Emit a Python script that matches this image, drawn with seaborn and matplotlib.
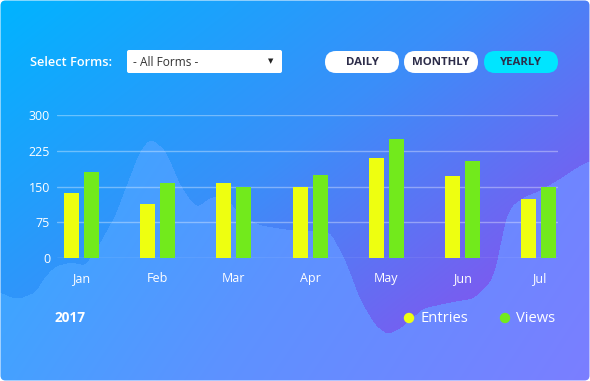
import numpy as np
import pandas as pd
import matplotlib
matplotlib.use("Agg")
import matplotlib.pyplot as plt
import seaborn as sns
from matplotlib.patches import FancyBboxPatch, Circle
from matplotlib.colors import to_rgb

# ---- data ----
months = ["Jan", "Feb", "Mar", "Apr", "May", "Jun", "Jul"]
entries = [136, 113, 158, 148, 210, 173, 124]
views = [180, 158, 149, 175, 250, 204, 149]
series_names = ["Entries", "Views"]
series_colors = ["#EEFF10", "#72EA1C"]
yticks = [0, 75, 150, 225, 300]
year_label = "2017"
buttons = ["DAILY", "MONTHLY", "YEARLY"]

df = pd.DataFrame({
    "month": months * 2,
    "series": [series_names[0]] * len(months) + [series_names[1]] * len(months),
    "value": entries + views,
})

sns.set_theme(style="white")
plt.rcParams["font.family"] = ["Open Sans", "DejaVu Sans"]

W, H = 590, 381
fig = plt.figure(figsize=(W / 100, H / 100), dpi=100)
fig.patch.set_facecolor("white")

# ---- background ----
bg = fig.add_axes([0, 0, 1, 1], zorder=0)
bg.set_xlim(0, W)
bg.set_ylim(H, 0)
bg.axis("off")

yy, xx = np.mgrid[0:H, 0:W].astype(float)

def ramp(t, stops):
    pos = np.array([s[0] for s in stops])
    cols = np.array([to_rgb(s[1]) for s in stops])
    out = np.zeros(t.shape + (3,))
    for c in range(3):
        out[..., c] = np.interp(t, pos, cols[:, c])
    return out

t_dark = np.clip(xx / W * 0.55 + yy / H * 0.45, 0, 1)
dark = ramp(t_dark, [(0, "#00b4ff"), (0.45, "#3b8ef9"), (0.8, "#7a5cf0"), (1, "#8050ee")])
t_light = np.clip(xx / W * 0.7 + yy / H * 0.3, 0, 1)
light = ramp(t_light, [(0, "#34aaff"), (0.25, "#40a4ff"), (0.55, "#5d92ff"), (1, "#7b7eff")])

# wave boundary (decorative)
bx = [0, 10, 20, 35, 45, 55, 70, 85, 100, 115, 130, 140, 150, 165, 180, 190, 197, 210, 225,
      240, 260, 285, 330, 345, 360, 375, 387, 400, 423, 450, 473, 490, 497, 503, 510, 523, 540,
      557, 577, 590]
by = [292, 297, 298, 292, 276, 266, 262, 265, 242, 215, 175, 150, 138, 150, 185, 200, 207, 197,
      196, 215, 225, 229, 232, 260, 300, 325, 334, 328, 308, 302, 298, 282, 263, 227, 207, 197,
      190, 180, 167, 160]
fx = np.arange(W)
fy = np.interp(fx, bx, by)
k = np.ones(9) / 9
fy = np.convolve(np.pad(fy, 4, mode="edge"), k, mode="valid")
mask = yy >= fy[None, :]
img = np.where(mask[..., None], light, dark)

im = bg.imshow(img, extent=(0, W, H, 0), origin="upper", interpolation="bilinear", zorder=0)
clip = FancyBboxPatch((0.5, 0.5), W - 1, H - 1, boxstyle="round,pad=0,rounding_size=5",
                      transform=bg.transData, facecolor="none", edgecolor="none")
bg.add_patch(clip)
im.set_clip_path(clip)
bg.set_aspect("auto")

# header controls
bg.text(30, 62, "Select Forms:", color="white", fontsize=9.2, fontweight="semibold",
        va="center", ha="left")
bg.add_patch(FancyBboxPatch((127, 50), 155, 23, boxstyle="round,pad=0,rounding_size=2",
                            facecolor="white", edgecolor="none"))
bg.text(133, 62, "- All Forms -", color="#333333", fontsize=8.6, va="center", ha="left")
bg.text(271, 61.5, "\u25bc", color="#222222", fontsize=5, va="center", ha="center",
        family="DejaVu Sans")

btn_x = [325, 404, 484]
btn_fill = ["white", "white", "#00e5ff"]
for bxp, label, fc in zip(btn_x, buttons, btn_fill):
    bg.add_patch(FancyBboxPatch((bxp, 51), 74, 22, boxstyle="round,pad=0,rounding_size=11",
                                facecolor=fc, edgecolor="none"))
    bg.text(bxp + 37, 62.5, label, color="#2d2d4a", fontsize=8.2, fontweight="bold",
            va="center", ha="center")

# footer
bg.text(55, 318, year_label, color="white", fontsize=9.8, fontweight="bold", va="center", ha="left")
leg_x = [409, 505]
for lx, name, col in zip(leg_x, series_names, series_colors):
    bg.add_patch(Circle((lx, 318), 5.2, facecolor=col, edgecolor="none"))
    bg.text(lx + 11, 318, name, color="white", fontsize=10.6, va="center", ha="left")

# ---- chart ----
ax = fig.add_axes([57 / W, 1 - 258 / H, (558 - 57) / W, (258 - 115) / H], zorder=2)
ax.patch.set_alpha(0)
sns.barplot(data=df, x="month", y="value", hue="series", hue_order=series_names,
            palette=series_colors, order=months, width=0.526, gap=0.25, saturation=1,
            legend=False, ax=ax, zorder=3, linewidth=0)
ax.set_xlim(-0.32, 6.25)
ax.set_ylim(0, 300)
ax.set_yticks(yticks)
ax.set_yticklabels([str(v) for v in yticks])
ax.yaxis.grid(True, color="white", alpha=0.35, linewidth=1)
ax.set_axisbelow(True)
for s in ax.spines.values():
    s.set_visible(False)
ax.tick_params(axis="y", length=0, pad=5, labelcolor="white", labelsize=9)
ax.tick_params(axis="x", length=0, pad=10, labelcolor="white", labelsize=9)
ax.set_xlabel("")
ax.set_ylabel("")
for lab in ax.get_xticklabels() + ax.get_yticklabels():
    lab.set_family(["Open Sans", "DejaVu Sans"])

fig.savefig("out.png", dpi=100, facecolor="white")
